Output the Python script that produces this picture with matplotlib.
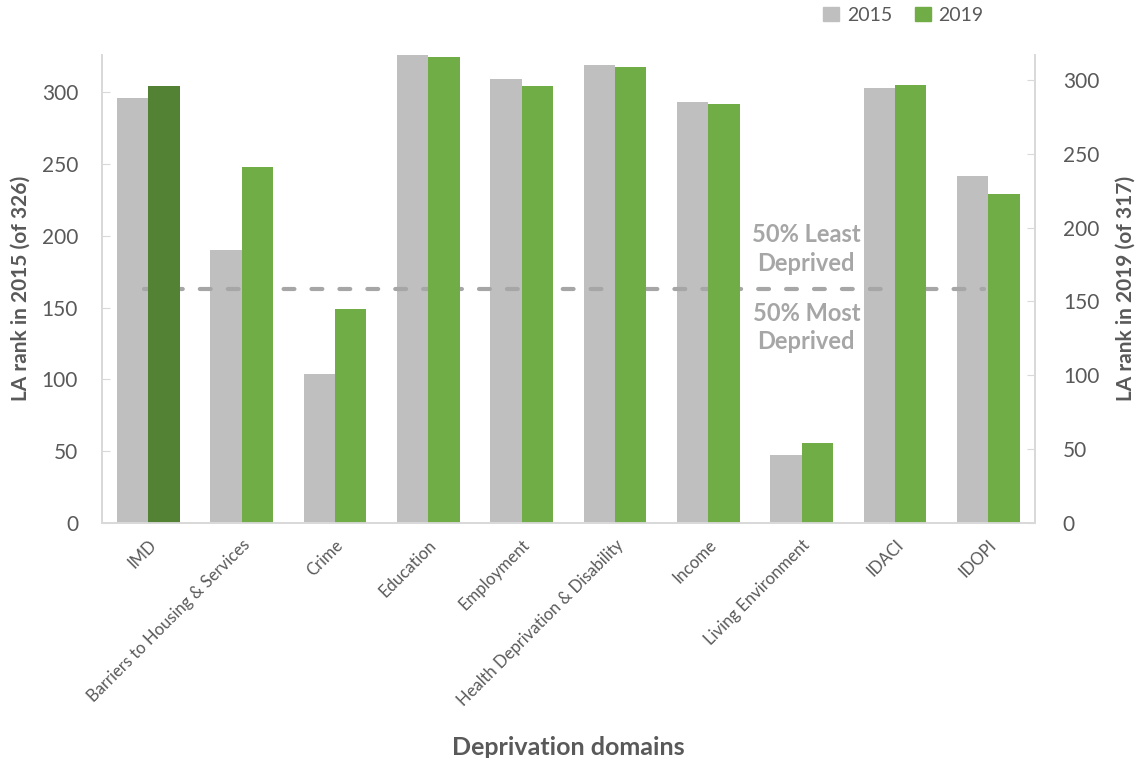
import matplotlib.pyplot as plt
import matplotlib.patches as mpatches
import numpy as np

plt.rcParams['font.family'] = ['Lato', 'DejaVu Sans']

domains = ["IMD", "Barriers to Housing & Services", "Crime", "Education", "Employment",
           "Health Deprivation & Disability", "Income", "Living Environment", "IDACI", "IDOPI"]
rank_2015 = [296, 190, 104, 326, 309, 319, 293, 47, 303, 242]
rank_2019 = [296, 241, 145, 316, 296, 309, 284, 54, 297, 223]
total_2015 = 326
total_2019 = 317

grey = "#BFBFBF"
green = "#70AD47"
dark_green = "#548235"
text_col = "#595959"
spine_col = "#D9D9D9"

fig = plt.figure(figsize=(11.38, 7.58), dpi=100)
ax = fig.add_axes([0.0894, 0.3104, 0.8201, 0.617])
ax2 = ax.twinx()

x = np.arange(len(domains))
w = 0.335
ax.bar(x - w/2, rank_2015, w, color=grey, zorder=2)
green_cols = [dark_green] + [green] * (len(domains) - 1)
ax2.bar(x + w/2, rank_2019, w, color=green_cols, zorder=2)

ax.set_xlim(-0.5, len(domains) - 0.5)
ax.set_ylim(0, total_2015)
ax2.set_ylim(0, total_2019)
ax.set_yticks(np.arange(0, 301, 50))
ax2.set_yticks(np.arange(0, 301, 50))

# halfway line
ax.plot([-0.05, 8.95], [total_2015 / 2, total_2015 / 2], color="#A6A6A6", lw=3,
        dashes=(2.6, 4.1), dash_capstyle='round', zorder=5)
ax.text(7.05, 191, "50% Least\nDeprived", ha='center', va='center', fontsize=17,
        fontweight='bold', color="#A6A6A6", linespacing=1.3, zorder=6)
ax.text(7.05, 136, "50% Most\nDeprived", ha='center', va='center', fontsize=17,
        fontweight='bold', color="#A6A6A6", linespacing=1.3, zorder=6)

ax.set_xticks(x)
ax.set_xticklabels(domains, rotation=45, ha='right', rotation_mode='anchor', fontsize=12, color=text_col)
ax.tick_params(axis='x', length=0, pad=10)
ax.tick_params(axis='y', direction='in', length=6, color=spine_col, labelsize=15, labelcolor=text_col, pad=17)
ax2.tick_params(axis='y', direction='in', length=6, color=spine_col, labelsize=15, labelcolor=text_col, pad=20)

for a in (ax, ax2):
    a.spines['top'].set_visible(False)
    for s in ('left', 'right', 'bottom'):
        a.spines[s].set_color(spine_col)
        a.spines[s].set_linewidth(1.3)

ax.set_ylabel("LA rank in 2015 (of 326)", fontsize=15, fontweight='bold', color=text_col, labelpad=8)
ax2.set_ylabel("LA rank in 2019 (of 317)", fontsize=15, fontweight='bold', color=text_col, labelpad=12)
ax.set_xlabel("Deprivation domains", fontsize=18, fontweight='bold', color=text_col, labelpad=20)

handles = [mpatches.Patch(color=grey, label="2015"), mpatches.Patch(color=green, label="2019")]
leg = fig.legend(handles=handles, loc='center', bbox_to_anchor=(0.794, 0.98), ncol=2, frameon=False,
                 fontsize=14, handlelength=0.8, handleheight=0.8, handletextpad=0.4, columnspacing=1.2)
for t in leg.get_texts():
    t.set_color(text_col)

fig.savefig("out.png", dpi=100)
